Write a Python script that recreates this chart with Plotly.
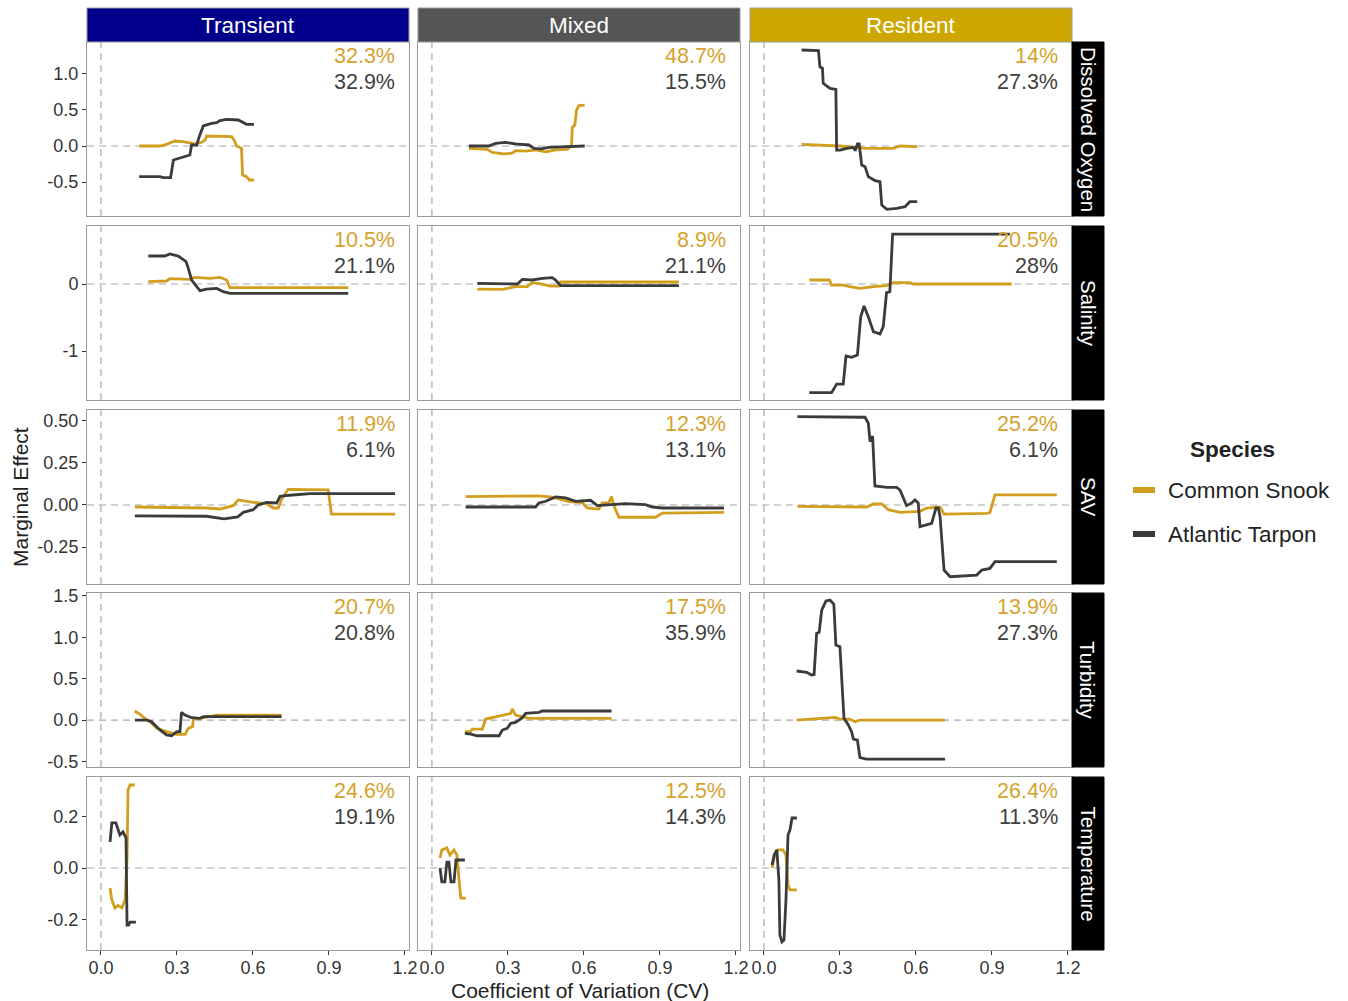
import plotly.graph_objects as go
from plotly.subplots import make_subplots

W, H = 1348, 1001
OFF = 0   # body margin removed via post_script

groups = ["Transient", "Mixed", "Resident"]
variables = ["Dissolved Oxygen", "Salinity", "SAV", "Turbidity", "Temperature"]
species = ["Common Snook", "Atlantic Tarpon"]

snook_pct = [["32.3%", "48.7%", "14%"], ["10.5%", "8.9%", "20.5%"], ["11.9%", "12.3%", "25.2%"],
             ["20.7%", "17.5%", "13.9%"], ["24.6%", "12.5%", "26.4%"]]
tarpon_pct = [["32.9%", "15.5%", "27.3%"], ["21.1%", "21.1%", "28%"], ["6.1%", "13.1%", "6.1%"],
              ["20.8%", "35.9%", "27.3%"], ["19.1%", "14.3%", "11.3%"]]

# ---- Dissolved Oxygen ----
do_tr_snook_x = [0.151, 0.233, 0.259, 0.292, 0.325, 0.351, 0.371, 0.397, 0.411, 0.417, 0.470, 0.516, 0.525, 0.536, 0.555, 0.559, 0.575, 0.586, 0.604]
do_tr_snook_y = [0.0, 0.0, 0.023, 0.069, 0.060, 0.037, 0.028, 0.051, 0.083, 0.139, 0.130, 0.130, 0.083, 0.0, -0.032, -0.403, -0.426, -0.472, -0.472]
do_tr_tarpon_x = [0.151, 0.233, 0.245, 0.275, 0.286, 0.305, 0.325, 0.351, 0.358, 0.378, 0.388, 0.404, 0.437, 0.457, 0.470, 0.496, 0.542, 0.562, 0.575, 0.604]
do_tr_tarpon_y = [-0.426, -0.426, -0.44, -0.44, -0.194, -0.171, -0.148, -0.125, 0.014, 0.014, 0.130, 0.278, 0.315, 0.324, 0.352, 0.370, 0.361, 0.324, 0.301, 0.301]
do_mx_snook_x = [0.146, 0.218, 0.238, 0.284, 0.317, 0.330, 0.370, 0.409, 0.449, 0.488, 0.534, 0.551, 0.554, 0.564, 0.571, 0.580, 0.603]
do_mx_snook_y = [-0.032, -0.046, -0.09, -0.11, -0.10, -0.065, -0.07, -0.055, -0.08, -0.055, -0.046, 0.0, 0.259, 0.29, 0.5, 0.56, 0.569]
do_mx_tarpon_x = [0.146, 0.224, 0.251, 0.290, 0.330, 0.383, 0.403, 0.429, 0.462, 0.515, 0.554, 0.603]
do_mx_tarpon_y = [0.0, 0.0, 0.037, 0.051, 0.028, 0.014, -0.032, -0.04, -0.018, -0.009, 0.0, 0.0]
do_rs_snook_x = [0.149, 0.221, 0.300, 0.405, 0.511, 0.537, 0.576, 0.605]
do_rs_snook_y = [0.023, 0.014, 0.0, -0.032, -0.032, 0.0, -0.009, -0.009]
do_rs_tarpon_x = [0.149, 0.215, 0.221, 0.231, 0.234, 0.250, 0.261, 0.284, 0.287, 0.300, 0.327, 0.353, 0.360, 0.369, 0.376, 0.386, 0.399, 0.412, 0.438, 0.458, 0.465, 0.485, 0.524, 0.557, 0.576, 0.605]
do_rs_tarpon_y = [1.333, 1.324, 1.10, 1.08, 0.870, 0.824, 0.80, 0.787, -0.056, -0.056, -0.032, -0.02, -0.065, 0.028, 0.028, -0.264, -0.287, -0.426, -0.48, -0.495, -0.819, -0.880, -0.866, -0.843, -0.773, -0.773]

# ---- Salinity ----
sal_tr_snook_x = [0.187, 0.259, 0.272, 0.351, 0.371, 0.430, 0.470, 0.496, 0.509, 0.976]
sal_tr_snook_y = [0.035, 0.045, 0.080, 0.07, 0.1, 0.085, 0.1, 0.06, -0.055, -0.055]
sal_tr_tarpon_x = [0.187, 0.252, 0.272, 0.305, 0.318, 0.336, 0.345, 0.358, 0.378, 0.391, 0.417, 0.457, 0.483, 0.509, 0.976]
sal_tr_tarpon_y = [0.418, 0.418, 0.448, 0.418, 0.383, 0.333, 0.234, 0.06, -0.04, -0.10, -0.075, -0.065, -0.115, -0.139, -0.139]
sal_mx_snook_x = [0.179, 0.278, 0.330, 0.376, 0.396, 0.436, 0.468, 0.501, 0.508, 0.975]
sal_mx_snook_y = [-0.075, -0.08, -0.04, -0.04, 0.02, 0.0, -0.03, -0.03, 0.03, 0.03]
sal_mx_tarpon_x = [0.179, 0.337, 0.357, 0.396, 0.436, 0.475, 0.488, 0.508, 0.975]
sal_mx_tarpon_y = [0.01, 0.0, 0.07, 0.06, 0.085, 0.095, 0.06, -0.025, -0.025]
sal_rs_snook_x = [0.179, 0.258, 0.267, 0.313, 0.339, 0.379, 0.432, 0.484, 0.511, 0.577, 0.589, 0.978]
sal_rs_snook_y = [0.06, 0.06, -0.015, -0.015, -0.04, -0.065, -0.04, -0.025, 0.02, 0.02, 0.0, 0.0]
sal_rs_tarpon_x = [0.179, 0.267, 0.287, 0.313, 0.324, 0.346, 0.369, 0.382, 0.395, 0.412, 0.432, 0.458, 0.471, 0.484, 0.497, 0.508, 0.971]
sal_rs_tarpon_y = [-1.622, -1.622, -1.493, -1.493, -1.075, -1.095, -1.06, -0.488, -0.328, -0.488, -0.711, -0.746, -0.637, -0.129, -0.115, 0.746, 0.746]

# ---- SAV ----
sav_tr_snook_x = [0.134, 0.417, 0.470, 0.522, 0.542, 0.601, 0.654, 0.680, 0.700, 0.713, 0.739, 0.897, 0.910, 1.161]
sav_tr_snook_y = [-0.012, -0.018, -0.024, -0.004, 0.03, 0.016, 0.008, -0.018, -0.018, 0.034, 0.093, 0.09, -0.054, -0.054]
sav_tr_tarpon_x = [0.134, 0.417, 0.486, 0.540, 0.562, 0.601, 0.621, 0.654, 0.694, 0.707, 0.746, 0.825, 1.161]
sav_tr_tarpon_y = [-0.065, -0.067, -0.083, -0.071, -0.044, -0.028, 0.0, 0.016, 0.012, 0.052, 0.058, 0.067, 0.067]
sav_mx_snook_x = [0.133, 0.422, 0.475, 0.541, 0.593, 0.613, 0.659, 0.672, 0.698, 0.709, 0.718, 0.738, 0.883, 0.909, 1.153]
sav_mx_snook_y = [0.05, 0.054, 0.046, 0.02, 0.014, -0.018, -0.024, 0.012, 0.012, 0.05, -0.004, -0.073, -0.073, -0.048, -0.044]
sav_mx_tarpon_x = [0.133, 0.409, 0.422, 0.449, 0.488, 0.528, 0.567, 0.626, 0.653, 0.698, 0.764, 0.843, 0.870, 0.909, 1.153]
sav_mx_tarpon_y = [-0.012, -0.012, 0.012, 0.022, 0.048, 0.042, 0.022, 0.028, -0.004, 0.002, 0.008, 0.002, -0.012, -0.018, -0.018]
sav_rs_snook_x = [0.132, 0.406, 0.432, 0.465, 0.491, 0.537, 0.616, 0.642, 0.695, 0.711, 0.879, 0.892, 0.912, 1.156]
sav_rs_snook_y = [-0.008, -0.012, 0.006, 0.006, -0.028, -0.044, -0.038, -0.018, -0.012, -0.054, -0.05, -0.045, 0.06, 0.06]
sav_rs_tarpon_x = [0.132, 0.399, 0.412, 0.419, 0.429, 0.438, 0.485, 0.524, 0.537, 0.563, 0.583, 0.596, 0.609, 0.616, 0.662, 0.679, 0.688, 0.695, 0.711, 0.735, 0.840, 0.860, 0.892, 0.912, 1.156]
sav_rs_tarpon_y = [0.526, 0.522, 0.486, 0.377, 0.41, 0.113, 0.105, 0.105, 0.089, -0.004, 0.012, 0.03, 0.012, -0.129, -0.109, -0.018, -0.018, -0.067, -0.387, -0.427, -0.417, -0.387, -0.377, -0.337, -0.337]

# ---- Turbidity ----
tu_tr_snook_x = [0.133, 0.150, 0.170, 0.196, 0.220, 0.259, 0.299, 0.332, 0.345, 0.362, 0.365, 0.391, 0.457, 0.713]
tu_tr_snook_y = [0.109, 0.08, 0.028, -0.028, -0.1, -0.141, -0.173, -0.173, -0.1, -0.08, 0.02, 0.02, 0.06, 0.06]
tu_tr_tarpon_x = [0.134, 0.180, 0.200, 0.220, 0.233, 0.259, 0.279, 0.299, 0.312, 0.318, 0.332, 0.358, 0.391, 0.404, 0.457, 0.713]
tu_tr_tarpon_y = [0.0, 0.0, -0.02, -0.08, -0.12, -0.18, -0.19, -0.14, -0.14, 0.093, 0.06, 0.028, 0.02, 0.04, 0.04, 0.04]
tu_mx_snook_x = [0.130, 0.153, 0.159, 0.199, 0.212, 0.251, 0.291, 0.311, 0.317, 0.330, 0.357, 0.383, 0.709]
tu_mx_snook_y = [-0.141, -0.141, -0.109, -0.109, 0.012, 0.04, 0.06, 0.08, 0.133, 0.06, 0.04, 0.02, 0.02]
tu_mx_tarpon_x = [0.130, 0.153, 0.179, 0.265, 0.278, 0.297, 0.311, 0.330, 0.357, 0.370, 0.422, 0.436, 0.709]
tu_mx_tarpon_y = [-0.161, -0.17, -0.19, -0.19, -0.121, -0.1, -0.04, -0.028, 0.028, 0.08, 0.093, 0.109, 0.109]
tu_rs_snook_x = [0.129, 0.208, 0.281, 0.300, 0.339, 0.359, 0.379, 0.715]
tu_rs_snook_y = [0.0, 0.012, 0.032, 0.012, 0.012, -0.02, 0.0, 0.0]
tu_rs_tarpon_x = [0.129, 0.169, 0.188, 0.198, 0.208, 0.218, 0.228, 0.245, 0.261, 0.276, 0.284, 0.300, 0.316, 0.333, 0.346, 0.353, 0.369, 0.379, 0.405, 0.715]
tu_rs_tarpon_y = [0.593, 0.577, 0.544, 0.55, 1.048, 1.06, 1.33, 1.439, 1.451, 1.399, 0.907, 0.887, 0.02, -0.06, -0.141, -0.23, -0.242, -0.455, -0.472, -0.472]

# ---- Temperature ----
te_tr_snook_x = [0.036, 0.043, 0.055, 0.067, 0.083, 0.095, 0.103, 0.107, 0.115, 0.134]
te_tr_snook_y = [-0.078, -0.124, -0.155, -0.145, -0.155, -0.124, 0.031, 0.303, 0.322, 0.322]
te_tr_tarpon_x = [0.036, 0.043, 0.059, 0.075, 0.087, 0.099, 0.103, 0.109, 0.115, 0.138]
te_tr_tarpon_y = [0.101, 0.175, 0.175, 0.128, 0.14, 0.117, -0.221, -0.221, -0.21, -0.21]
te_mx_snook_x = [0.032, 0.039, 0.059, 0.071, 0.087, 0.099, 0.107, 0.114, 0.134]
te_mx_snook_y = [0.039, 0.07, 0.078, 0.05, 0.07, 0.05, -0.047, -0.117, -0.117]
te_mx_tarpon_x = [0.032, 0.039, 0.051, 0.059, 0.067, 0.075, 0.087, 0.095, 0.107, 0.130]
te_mx_tarpon_y = [0.0, -0.054, -0.054, 0.023, 0.023, -0.054, -0.054, 0.031, 0.031, 0.031]
te_rs_snook_x = [0.032, 0.043, 0.055, 0.075, 0.087, 0.095, 0.103, 0.130]
te_rs_snook_y = [0.0, 0.05, 0.07, 0.07, 0.05, -0.066, -0.085, -0.085]
te_rs_tarpon_x = [0.032, 0.040, 0.051, 0.059, 0.063, 0.071, 0.079, 0.087, 0.095, 0.103, 0.111, 0.130]
te_rs_tarpon_y = [0.012, 0.05, 0.07, -0.047, -0.26, -0.287, -0.28, -0.124, 0.128, 0.148, 0.194, 0.194]

snook_series = [
    [(do_tr_snook_x, do_tr_snook_y), (do_mx_snook_x, do_mx_snook_y), (do_rs_snook_x, do_rs_snook_y)],
    [(sal_tr_snook_x, sal_tr_snook_y), (sal_mx_snook_x, sal_mx_snook_y), (sal_rs_snook_x, sal_rs_snook_y)],
    [(sav_tr_snook_x, sav_tr_snook_y), (sav_mx_snook_x, sav_mx_snook_y), (sav_rs_snook_x, sav_rs_snook_y)],
    [(tu_tr_snook_x, tu_tr_snook_y), (tu_mx_snook_x, tu_mx_snook_y), (tu_rs_snook_x, tu_rs_snook_y)],
    [(te_tr_snook_x, te_tr_snook_y), (te_mx_snook_x, te_mx_snook_y), (te_rs_snook_x, te_rs_snook_y)],
]
tarpon_series = [
    [(do_tr_tarpon_x, do_tr_tarpon_y), (do_mx_tarpon_x, do_mx_tarpon_y), (do_rs_tarpon_x, do_rs_tarpon_y)],
    [(sal_tr_tarpon_x, sal_tr_tarpon_y), (sal_mx_tarpon_x, sal_mx_tarpon_y), (sal_rs_tarpon_x, sal_rs_tarpon_y)],
    [(sav_tr_tarpon_x, sav_tr_tarpon_y), (sav_mx_tarpon_x, sav_mx_tarpon_y), (sav_rs_tarpon_x, sav_rs_tarpon_y)],
    [(tu_tr_tarpon_x, tu_tr_tarpon_y), (tu_mx_tarpon_x, tu_mx_tarpon_y), (tu_rs_tarpon_x, tu_rs_tarpon_y)],
    [(te_tr_tarpon_x, te_tr_tarpon_y), (te_mx_tarpon_x, te_mx_tarpon_y), (te_rs_tarpon_x, te_rs_tarpon_y)],
]

x_ticks = [0.0, 0.3, 0.6, 0.9, 1.2]
x_ticklabels = ["0.0", "0.3", "0.6", "0.9", "1.2"]
y_ticks = [[-0.5, 0.0, 0.5, 1.0], [-1, 0], [-0.25, 0.0, 0.25, 0.5], [-0.5, 0.0, 0.5, 1.0, 1.5], [-0.2, 0.0, 0.2]]
y_ticklabels = [["-0.5", "0.0", "0.5", "1.0"], ["-1", "0"], ["-0.25", "0.00", "0.25", "0.50"],
                ["-0.5", "0.0", "0.5", "1.0", "1.5"], ["-0.2", "0.0", "0.2"]]
y_ranges = [[-0.972, 1.444], [-1.731, 0.866], [-0.470, 0.565], [-0.568, 1.536], [-0.318, 0.353]]
x_range = [-0.055, 1.216]

GOLD = "#D29E1E"
DARK = "#3B3B3B"
strip_colors = ["#00008B", "#555555", "#CDA700"]
FONT = "Liberation Sans, Arial, sans-serif"

# target pixel layout (screen coordinates)
col_px = [(87, 409), (418, 740), (750, 1072)]
row_px = [(42, 216), (226, 400), (410, 584), (593, 767), (777, 950)]


def px(x):
    return (x - OFF) / W


def py(y):
    return 1 - (y - OFF) / H


fig = make_subplots(rows=5, cols=3)

for r in range(5):
    for c in range(3):
        for (sx, sy), color in ((snook_series[r][c], GOLD), (tarpon_series[r][c], DARK)):
            fig.add_trace(go.Scatter(x=sx, y=sy, mode="lines", line=dict(color=color, width=2.8),
                                     showlegend=False, hoverinfo="skip"), row=r + 1, col=c + 1)

layout_updates = {}
for r in range(5):
    for c in range(3):
        n = r * 3 + c + 1
        xa = "xaxis" if n == 1 else f"xaxis{n}"
        ya = "yaxis" if n == 1 else f"yaxis{n}"
        x0, x1 = col_px[c]
        y0, y1 = row_px[r]
        layout_updates[xa] = dict(
            domain=[px(x0), px(x1)], range=x_range, tickvals=x_ticks, ticktext=x_ticklabels,
            showticklabels=(r == 4), ticks="outside" if r == 4 else "", ticklen=4, tickcolor="#333",
            ticklabelstandoff=-3,
            showgrid=False, zeroline=False, showline=True, mirror=True, linecolor="#9a9a9a", linewidth=1,
            tickfont=dict(size=18, color="#333", family=FONT), automargin=False, fixedrange=True)
        layout_updates[ya] = dict(
            domain=[py(y1), py(y0)], range=y_ranges[r], tickvals=y_ticks[r], ticktext=y_ticklabels[r],
            showticklabels=(c == 0), ticks="outside" if c == 0 else "", ticklen=4, tickcolor="#333",
            showgrid=False, zeroline=False, showline=True, mirror=True, linecolor="#9a9a9a", linewidth=1,
            tickfont=dict(size=18, color="#333", family=FONT), automargin=False, fixedrange=True)

fig.update_layout(**layout_updates)

shapes = []
annotations = []
for r in range(5):
    for c in range(3):
        n = r * 3 + c + 1
        xs = "x" if n == 1 else f"x{n}"
        ys = "y" if n == 1 else f"y{n}"
        shapes.append(dict(type="line", xref=f"{xs} domain", yref=ys, x0=0, x1=1, y0=0, y1=0,
                           line=dict(color="#a8a8a8", width=1.2, dash="7px,5px"), layer="below"))
        shapes.append(dict(type="line", xref=xs, yref=f"{ys} domain", x0=0, x1=0, y0=0, y1=1,
                           line=dict(color="#a8a8a8", width=1.2, dash="7px,5px"), layer="below"))
        x1p = col_px[c][1]
        y0p = row_px[r][0]
        annotations.append(dict(text=snook_pct[r][c], xref="paper", yref="paper", x=px(x1p - 12),
                                y=py(y0p + 14), xanchor="right", yanchor="middle", showarrow=False,
                                font=dict(size=21.5, color="#D6A22C", family=FONT)))
        annotations.append(dict(text=tarpon_pct[r][c], xref="paper", yref="paper", x=px(x1p - 12),
                                y=py(y0p + 40), xanchor="right", yanchor="middle", showarrow=False,
                                font=dict(size=21.5, color="#3f3f3f", family=FONT)))

# top strips
for c in range(3):
    x0, x1 = col_px[c]
    shapes.append(dict(type="rect", xref="paper", yref="paper", x0=px(x0), x1=px(x1), y0=py(42), y1=py(8),
                       fillcolor=strip_colors[c], line=dict(color="#9a9a9a", width=1)))
    annotations.append(dict(text=groups[c], xref="paper", yref="paper", x=px((x0 + x1) / 2), y=py(25),
                            xanchor="center", yanchor="middle", showarrow=False,
                            font=dict(size=22.5, color="white", family=FONT)))
# right strips
for r in range(5):
    y0, y1 = row_px[r]
    shapes.append(dict(type="rect", xref="paper", yref="paper", x0=px(1072), x1=px(1104), y0=py(y1), y1=py(y0),
                       fillcolor="black", line=dict(color="black", width=1)))
    annotations.append(dict(text=variables[r], xref="paper", yref="paper", x=px(1088), y=py((y0 + y1) / 2),
                            xanchor="center", yanchor="middle", showarrow=False, textangle=90,
                            font=dict(size=20.5, color="white", family=FONT)))

# axis titles
annotations.append(dict(text="Coefficient of Variation (CV)", xref="paper", yref="paper", x=px(580), y=py(990),
                        xanchor="center", yanchor="middle", showarrow=False,
                        font=dict(size=21, color="#222", family=FONT)))
annotations.append(dict(text="Marginal Effect", xref="paper", yref="paper", x=px(21), y=py(497),
                        xanchor="center", yanchor="middle", showarrow=False, textangle=-90,
                        font=dict(size=21, color="#222", family=FONT)))

# legend
annotations.append(dict(text="<b>Species</b>", xref="paper", yref="paper", x=px(1188), y=py(449),
                        xanchor="left", yanchor="middle", showarrow=False,
                        font=dict(size=22.5, color="#222", family=FONT)))
for i, (name, color) in enumerate(zip(species, [GOLD, DARK])):
    yc = 490 + 44 * i
    shapes.append(dict(type="line", xref="paper", yref="paper", x0=px(1133), x1=px(1155), y0=py(yc), y1=py(yc),
                       line=dict(color=color, width=6)))
    annotations.append(dict(text=name, xref="paper", yref="paper", x=px(1166), y=py(yc),
                            xanchor="left", yanchor="middle", showarrow=False,
                            font=dict(size=22.5, color="#222", family=FONT)))

fig.update_layout(width=W, height=H, autosize=False, margin=dict(l=0, r=0, t=0, b=0),
                  paper_bgcolor="white", plot_bgcolor="white", showlegend=False,
                  shapes=shapes, annotations=annotations, font=dict(family=FONT))

fig.write_html("out.html", config={"displayModeBar": False},
               post_script="document.body.style.margin='0px';document.body.style.overflow='hidden';")
